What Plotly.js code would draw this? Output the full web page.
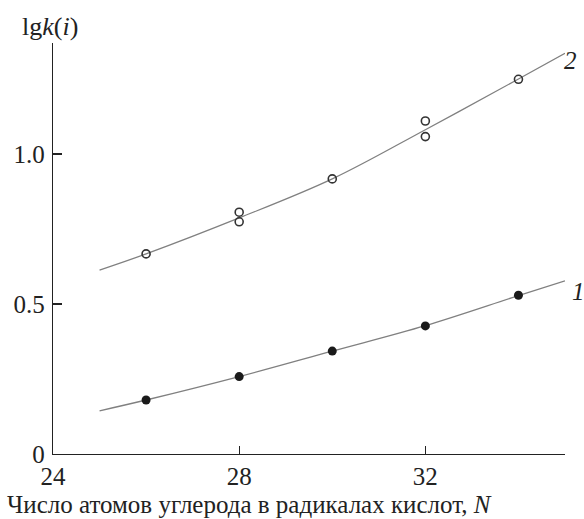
<!DOCTYPE html>
<html>
<head>
<meta charset="utf-8">
<script src="https://cdn.plot.ly/plotly-3.0.1.min.js"></script>
<style>html,body{margin:0;padding:0;background:#fff;}#chart{width:584px;height:519px;}</style>
</head>
<body>
<div id="chart"></div>
<script>
// Series 1 (filled circles)
const N1 = [26, 28, 30, 32, 34];
const lgk1 = [0.18, 0.258, 0.343, 0.427, 0.529];
// Series 2 (open circles)
const N2 = [26, 28, 28, 30, 32, 32, 34];
const lgk2 = [0.667, 0.806, 0.774, 0.917, 1.11, 1.058, 1.249];
// Fitted curves
const fitN = [25, 26, 28, 30, 32, 34, 35];
const fit1 = [0.144, 0.18, 0.258, 0.343, 0.428, 0.528, 0.577];
const fit2 = [0.613, 0.667, 0.787, 0.917, 1.081, 1.25, 1.336];
// Axis ticks
const xTicks = [24, 28, 32];
const yTicks = [0, 0.5, 1.0];
const yTickText = ['0', '0.5', '1.0'];
const curveLabels = ['1', '2'];

const serif = "'Liberation Serif', 'Times New Roman', serif";
const txt = '#222';

const traces = [
  {x: fitN, y: fit1, mode: 'lines', line: {color: '#808080', width: 1.3, shape: 'spline'}, hoverinfo: 'skip'},
  {x: fitN, y: fit2, mode: 'lines', line: {color: '#808080', width: 1.3, shape: 'spline'}, hoverinfo: 'skip'},
  {x: N1, y: lgk1, mode: 'markers', marker: {symbol: 'circle', size: 9, color: '#1a1a1a'}, cliponaxis: false},
  {x: N2, y: lgk2, mode: 'markers', marker: {symbol: 'circle-open', size: 8, color: '#333', line: {width: 1.6, color: '#333'}}, cliponaxis: false}
];

const layout = {
  width: 584, height: 519,
  margin: {l: 53, r: 19, t: 43, b: 65},
  paper_bgcolor: '#fff', plot_bgcolor: '#fff',
  showlegend: false,
  font: {family: serif, size: 25, color: txt},
  xaxis: {
    range: [24, 35], tickvals: xTicks, ticktext: xTicks.map(String),
    showgrid: false, zeroline: false, showline: true, linecolor: '#222', linewidth: 1.2,
    ticks: 'inside', ticklen: 8, tickwidth: 1.2, tickcolor: '#222', ticklabelstandoff: 0,
    tickfont: {family: serif, size: 25, color: txt}
  },
  yaxis: {
    range: [0, 1.37], tickvals: yTicks, ticktext: yTickText,
    showgrid: false, zeroline: false, showline: true, linecolor: '#222', linewidth: 1.2,
    ticks: 'inside', ticklen: 9, tickwidth: 1.2, tickcolor: '#222', ticklabelstandoff: 2,
    tickfont: {family: serif, size: 25, color: txt}
  },
  annotations: [
    {xref: 'paper', yref: 'paper', x: -0.093, y: -0.122, xanchor: 'left', yanchor: 'middle',
     text: 'Число атомов углерода в радикалах кислот, <i>N</i>', showarrow: false,
     font: {family: serif, size: 25, color: txt}},
    {xref: 'paper', yref: 'paper', x: -0.064, y: 1.041, xanchor: 'left', yanchor: 'middle',
     text: 'lg<i>k</i>(<i>i</i>)', showarrow: false,
     font: {family: serif, size: 26, color: txt}},
    {xref: 'paper', yref: 'y', x: 1, y: 0.541, xanchor: 'left', yanchor: 'middle', xshift: 5,
     text: '<i>' + curveLabels[0] + '</i>', showarrow: false, font: {family: serif, size: 25, color: txt}},
    {xref: 'paper', yref: 'y', x: 1, y: 1.313, xanchor: 'left', yanchor: 'middle', xshift: -3,
     text: '<i>' + curveLabels[1] + '</i>', showarrow: false, font: {family: serif, size: 25, color: txt}}
  ]
};

Plotly.newPlot('chart', traces, layout, {staticPlot: true, displayModeBar: false});
</script>
</body>
</html>
